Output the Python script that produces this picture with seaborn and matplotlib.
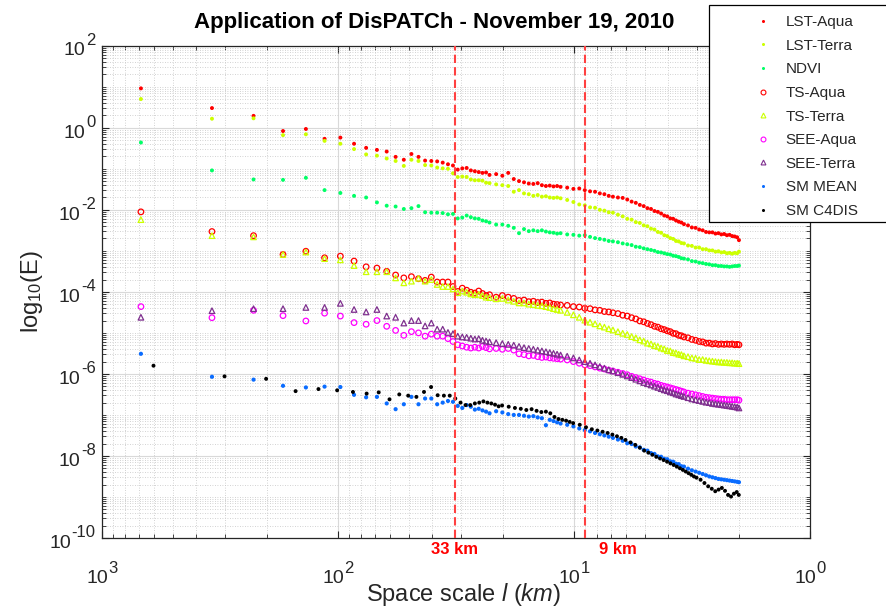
import numpy as np
import pandas as pd
import matplotlib
matplotlib.use("Agg")
import matplotlib.pyplot as plt
import seaborn as sns
from matplotlib.patches import Rectangle
from matplotlib.lines import Line2D
from matplotlib.ticker import FixedLocator, LogLocator, NullFormatter
import matplotlib.transforms as mtransforms

# ---------------- data ----------------
# domain lengths (km) of the two spectra; scale = L / wavenumber index
L_MAIN = 684.0
L_C4DIS = 605.0

k_main = (list(range(1, 31)) + list(range(32, 61, 2)) + list(range(64, 101, 4))
          + list(range(105, 201, 5)) + list(range(208, 337, 8)) + [342])
k_c4dis = (list(range(1, 31)) + list(range(32, 61, 2)) + list(range(64, 101, 4))
           + list(range(105, 201, 5)) + list(range(208, 297, 8)) + [302])

# log10(E) values
lst_aqua = [0.96, 0.48, 0.29, -0.08, -0.03, -0.27, -0.24, -0.39, -0.49, -0.54,
            -0.58, -0.71, -0.78, -0.64, -0.71, -0.80, -0.81, -0.82, -0.85, -0.89,
            -0.92, -1.02, -0.99, -0.98, -1.04, -1.06, -1.08, -1.10, -1.09, -1.15,
            -1.13, -1.17, -1.10, -1.25, -1.30, -1.33, -1.36, -1.37, -1.35, -1.40, -1.42, -1.41, -1.43, -1.42, -1.44,
            -1.46, -1.49, -1.48, -1.52, -1.55, -1.56, -1.60, -1.62, -1.66, -1.68,
            -1.70, -1.71, -1.75, -1.80, -1.83, -1.88, -1.91, -1.96, -1.98, -2.03,
            -2.05, -2.09, -2.14, -2.16, -2.21, -2.22, -2.26, -2.29, -2.31, -2.35,
            -2.38, -2.43, -2.44, -2.48, -2.50, -2.54, -2.55, -2.55, -2.58, -2.57,
            -2.60, -2.59, -2.62, -2.61, -2.64, -2.65, -2.67, -2.74]
lst_terra = [0.70, 0.22, 0.23, -0.18, -0.16, -0.32, -0.39, -0.52, -0.65, -0.68,
             -0.75, -0.81, -0.93, -0.78, -0.81, -0.91, -0.92, -0.97, -0.99, -1.00,
             -1.11, -1.20, -1.19, -1.20, -1.26, -1.28, -1.28, -1.29, -1.34, -1.35,
             -1.38, -1.40, -1.42, -1.56, -1.52, -1.60, -1.62, -1.66, -1.64, -1.68, -1.67, -1.70, -1.71, -1.70, -1.72,
             -1.76, -1.81, -1.87, -1.89, -1.94, -1.95, -2.00, -2.02, -2.06, -2.07,
             -2.12, -2.16, -2.22, -2.24, -2.30, -2.32, -2.38, -2.40, -2.46, -2.48,
             -2.54, -2.56, -2.62, -2.64, -2.69, -2.71, -2.76, -2.77, -2.81, -2.82,
             -2.87, -2.88, -2.92, -2.92, -2.96, -2.96, -2.99, -2.99, -3.02, -3.01,
             -3.04, -3.03, -3.06, -3.05, -3.07, -3.05, -3.06, -3.02]
ndvi = [-0.36, -1.04, -1.26, -1.27, -1.22, -1.52, -1.59, -1.66, -1.70, -1.82,
        -1.90, -1.92, -1.98, -1.96, -1.91, -2.06, -2.07, -2.07, -2.08, -2.11,
        -2.10, -2.21, -2.19, -2.14, -2.18, -2.21, -2.22, -2.26, -2.28, -2.31,
        -2.36, -2.36, -2.39, -2.44, -2.57, -2.47, -2.52, -2.50, -2.52, -2.50, -2.53, -2.55, -2.56, -2.58, -2.57,
        -2.60, -2.61, -2.63, -2.62, -2.66, -2.69, -2.71, -2.73, -2.76, -2.77,
        -2.79, -2.82, -2.84, -2.86, -2.90, -2.91, -2.94, -2.96, -2.98, -3.00,
        -3.03, -3.04, -3.06, -3.08, -3.09, -3.12, -3.13, -3.15, -3.18, -3.19,
        -3.21, -3.25, -3.26, -3.29, -3.30, -3.32, -3.33, -3.35, -3.35, -3.37,
        -3.37, -3.38, -3.38, -3.39, -3.38, -3.37, -3.37, -3.36]
ts_aqua = [-2.05, -2.53, -2.63, -3.09, -3.01, -3.17, -3.13, -3.25, -3.39, -3.42,
           -3.50, -3.59, -3.66, -3.63, -3.68, -3.72, -3.64, -3.76, -3.76, -3.76,
           -3.87, -3.99, -3.91, -3.96, -4.01, -4.03, -3.98, -4.04, -4.09, -4.07,
           -4.13, -4.09, -4.13, -4.16, -4.21, -4.20, -4.24, -4.23, -4.26, -4.25, -4.28, -4.27, -4.30, -4.31, -4.32,
           -4.33, -4.36, -4.37, -4.40, -4.41, -4.44, -4.45, -4.48, -4.49, -4.51,
           -4.53, -4.57, -4.59, -4.63, -4.66, -4.71, -4.73, -4.77, -4.80, -4.84,
           -4.86, -4.90, -4.92, -4.95, -4.97, -5.01, -5.02, -5.06, -5.07, -5.10,
           -5.12, -5.16, -5.18, -5.21, -5.22, -5.25, -5.25, -5.27, -5.26, -5.28,
           -5.27, -5.28, -5.27, -5.28, -5.27, -5.29, -5.28, -5.29]
ts_terra = [-2.24, -2.63, -2.66, -3.09, -3.03, -3.19, -3.22, -3.36, -3.51, -3.51,
            -3.51, -3.66, -3.78, -3.74, -3.67, -3.74, -3.70, -3.82, -3.87, -3.87,
            -3.93, -4.02, -3.98, -4.01, -4.05, -4.07, -4.06, -4.09, -4.13, -4.14,
            -4.17, -4.16, -4.20, -4.23, -4.27, -4.27, -4.30, -4.31, -4.33, -4.34, -4.36, -4.38, -4.41, -4.43, -4.45,
            -4.50, -4.56, -4.62, -4.69, -4.74, -4.78, -4.83, -4.86, -4.90, -4.93,
            -4.97, -5.01, -5.04, -5.09, -5.12, -5.17, -5.20, -5.25, -5.27, -5.31,
            -5.33, -5.37, -5.39, -5.43, -5.44, -5.48, -5.49, -5.52, -5.53, -5.56,
            -5.58, -5.61, -5.62, -5.65, -5.65, -5.67, -5.68, -5.69, -5.70, -5.71,
            -5.71, -5.72, -5.72, -5.73, -5.73, -5.74, -5.74, -5.75]
see_aqua = [-4.36, -4.63, -4.45, -4.58, -4.71, -4.52, -4.59, -4.75, -4.79, -4.70,
            -4.84, -4.94, -5.06, -4.97, -5.00, -5.08, -5.03, -5.08, -5.08, -5.14,
            -5.21, -5.29, -5.32, -5.35, -5.37, -5.35, -5.37, -5.33, -5.36, -5.39,
            -5.38, -5.40, -5.38, -5.42, -5.51, -5.53, -5.56, -5.55, -5.58, -5.60, -5.59, -5.61, -5.62, -5.63, -5.64,
            -5.66, -5.70, -5.74, -5.78, -5.80, -5.83, -5.86, -5.88, -5.91, -5.93,
            -5.96, -5.99, -6.02, -6.06, -6.09, -6.12, -6.15, -6.18, -6.20, -6.23,
            -6.25, -6.28, -6.30, -6.32, -6.34, -6.36, -6.38, -6.40, -6.42, -6.44,
            -6.47, -6.49, -6.51, -6.53, -6.55, -6.57, -6.58, -6.59, -6.60, -6.61,
            -6.62, -6.62, -6.63, -6.63, -6.63, -6.63, -6.63, -6.64]
see_terra = [-4.62, -4.46, -4.41, -4.41, -4.38, -4.38, -4.28, -4.43, -4.49, -4.43,
             -4.59, -4.62, -4.76, -4.70, -4.70, -4.83, -4.76, -4.91, -4.91, -4.99,
             -5.02, -5.08, -5.10, -5.11, -5.13, -5.15, -5.14, -5.18, -5.20, -5.22,
             -5.24, -5.26, -5.28, -5.30, -5.33, -5.36, -5.38, -5.40, -5.42, -5.44, -5.46, -5.48, -5.50, -5.52, -5.54,
             -5.57, -5.61, -5.66, -5.70, -5.74, -5.78, -5.82, -5.86, -5.90, -5.93,
             -5.97, -6.01, -6.05, -6.09, -6.13, -6.17, -6.21, -6.24, -6.27, -6.30,
             -6.33, -6.36, -6.39, -6.41, -6.44, -6.46, -6.49, -6.51, -6.53, -6.55,
             -6.58, -6.61, -6.63, -6.65, -6.67, -6.69, -6.70, -6.72, -6.73, -6.74,
             -6.75, -6.76, -6.77, -6.78, -6.79, -6.80, -6.81, -6.83]
sm_mean = [-5.51, -6.07, -6.14, -6.29, -6.33, -6.31, -6.32, -6.51, -6.57, -6.56,
           -6.72, -6.86, -6.74, -6.56, -6.74, -6.60, -6.60, -6.74, -6.70, -6.66,
           -6.68, -6.78, -6.83, -6.76, -6.80, -6.87, -6.85, -6.89, -6.92, -6.96,
           -6.91, -6.94, -6.98, -7.00, -7.00, -7.02, -7.04, -7.03, -7.06, -7.08, -7.25, -7.12, -7.15, -7.18, -7.21,
           -7.24, -7.28, -7.33, -7.37, -7.40, -7.44, -7.47, -7.50, -7.53, -7.56,
           -7.60, -7.63, -7.69, -7.71, -7.77, -7.79, -7.85, -7.87, -7.93, -7.95,
           -8.01, -8.02, -8.07, -8.08, -8.13, -8.14, -8.19, -8.20, -8.25, -8.26,
           -8.31, -8.35, -8.38, -8.41, -8.44, -8.47, -8.50, -8.52, -8.54, -8.56,
           -8.57, -8.58, -8.59, -8.60, -8.61, -8.62, -8.63, -8.64]
sm_c4dis = [-5.80, -6.06, -6.12, -6.42, -6.37, -6.40, -6.44, -6.48, -6.45, -6.62,
            -6.50, -6.53, -6.56, -6.44, -6.32, -6.52, -6.53, -6.53, -6.60, -6.70,
            -6.76, -6.76, -6.72, -6.70, -6.67, -6.70, -6.72, -6.75, -6.79, -6.77,
            -6.80, -6.83, -6.85, -6.88, -6.86, -6.90, -6.93, -6.92, -6.96, -7.05, -7.10, -7.12, -7.14, -7.17, -7.20,
            -7.24, -7.30, -7.35, -7.38, -7.41, -7.44, -7.48, -7.52, -7.56, -7.61,
            -7.67, -7.73, -7.80, -7.87, -7.92, -7.97, -8.02, -8.06, -8.10, -8.14,
            -8.18, -8.22, -8.26, -8.30, -8.34, -8.38, -8.42, -8.46, -8.50, -8.53,
            -8.58, -8.66, -8.74, -8.80, -8.86, -8.82, -8.78, -8.85, -8.95, -8.99,
            -8.92, -8.88, -8.95]

series_names = ["LST-Aqua", "LST-Terra", "NDVI", "TS-Aqua", "TS-Terra",
                "SEE-Aqua", "SEE-Terra", "SM MEAN", "SM C4DIS"]
series_logE = [lst_aqua, lst_terra, ndvi, ts_aqua, ts_terra,
               see_aqua, see_terra, sm_mean, sm_c4dis]
series_L = [L_MAIN] * 8 + [L_C4DIS]
series_k = [k_main] * 8 + [k_c4dis]

x_tick_exps = [3, 2, 1, 0]
y_tick_exps = [-10, -8, -6, -4, -2, 0, 2]

scale_lines_km = [32, 9]
scale_line_labels = ["33 km", "9 km"]

# ---------------- table ----------------
frames = []
for name, logs, L, ks in zip(series_names, series_logE, series_L, series_k):
    ks = np.asarray(ks, dtype=float)
    frames.append(pd.DataFrame({"series": name,
                                "scale": L / ks,
                                "E": 10.0 ** np.asarray(logs)}))
df = pd.concat(frames, ignore_index=True)

# ---------------- style ----------------
sns.set_style("ticks")
plt.rcParams["font.family"] = ["Liberation Sans", "DejaVu Sans"]
plt.rcParams["mathtext.fontset"] = "custom"
plt.rcParams["mathtext.rm"] = "Liberation Sans"
plt.rcParams["mathtext.it"] = "Liberation Sans:italic"
plt.rcParams["mathtext.bf"] = "Liberation Sans:bold"

styles = {
    "LST-Aqua":  dict(marker="o", color="#FF0000", open=False, s=8),
    "LST-Terra": dict(marker="o", color="#CCFF00", open=False, s=8),
    "NDVI":      dict(marker="o", color="#00FF66", open=False, s=8),
    "TS-Aqua":   dict(marker="o", color="#FF0000", open=True, s=16),
    "TS-Terra":  dict(marker="^", color="#CCFF00", open=True, s=16),
    "SEE-Aqua":  dict(marker="o", color="#FF00FF", open=True, s=16),
    "SEE-Terra": dict(marker="^", color="#7E2F8E", open=True, s=16),
    "SM MEAN":   dict(marker="o", color="#0A6CFF", open=False, s=9),
    "SM C4DIS":  dict(marker="o", color="#000000", open=False, s=8),
}
TXT = "#262626"

W, H = 887, 610
fig = plt.figure(figsize=(W / 100, H / 100), dpi=100)
fig.patch.set_facecolor("white")
ax_l, ax_r, ax_t, ax_b = 102, 810, 45.7, 538
ax = fig.add_axes([ax_l / W, 1 - ax_b / H, (ax_r - ax_l) / W, (ax_b - ax_t) / H])

for name in series_names:
    st = styles[name]
    d = df[df["series"] == name]
    if st["open"]:
        sns.scatterplot(data=d, x="scale", y="E", ax=ax, marker=st["marker"], s=st["s"],
                        color=st["color"], facecolor="none", edgecolor=st["color"],
                        linewidth=0.9, legend=False, zorder=3)
    else:
        sns.scatterplot(data=d, x="scale", y="E", ax=ax, marker=st["marker"], s=st["s"],
                        color=st["color"], edgecolor="none", linewidth=0,
                        legend=False, zorder=3)

ax.set_xscale("log")
ax.set_yscale("log")
ax.set_xlim(1000, 1)
ax.set_ylim(1e-10, 1e2)

ax.xaxis.set_major_locator(FixedLocator([10.0 ** e for e in x_tick_exps]))
ax.xaxis.set_minor_locator(LogLocator(base=10, subs=np.arange(1, 10), numticks=50))
ax.yaxis.set_major_locator(FixedLocator([10.0 ** e for e in y_tick_exps]))
ax.yaxis.set_minor_locator(LogLocator(base=10, subs=np.arange(1, 10), numticks=50))
ax.xaxis.set_minor_formatter(NullFormatter())
ax.yaxis.set_minor_formatter(NullFormatter())

ax.set_axisbelow(True)
ax.grid(which="major", color="#D9D9D9", linestyle="-", linewidth=0.8)
ax.grid(which="minor", color="#C4C4C4", linestyle=(0, (1, 2)), linewidth=0.6)

ax.tick_params(which="both", direction="in", top=True, right=True, colors=TXT,
               labelleft=False, labelbottom=False)
ax.tick_params(which="major", length=5, width=0.8)
ax.tick_params(which="minor", length=3, width=0.6)
for sp in ax.spines.values():
    sp.set_color(TXT)
    sp.set_linewidth(0.9)

# MATLAB-like power-of-ten tick labels (base + raised exponent)
BASE_FS, EXP_FS = 14, 12
renderer = fig.canvas.get_renderer()
pt_per_px = 72.0 / fig.dpi
ytr = mtransforms.blended_transform_factory(ax.transAxes, ax.transData)
for e in y_tick_exps:
    te = ax.annotate(str(e), xy=(0, 10.0 ** e), xycoords=ytr, xytext=(-4.5, 0.6),
                     textcoords="offset points", ha="right", va="baseline",
                     fontsize=EXP_FS, color=TXT)
    we = te.get_window_extent(renderer).width * pt_per_px
    ax.annotate("10", xy=(0, 10.0 ** e), xycoords=ytr, xytext=(-4.5 - we - 0.6, -3.8),
                textcoords="offset points", ha="right", va="center",
                fontsize=BASE_FS, color=TXT)
xtr = mtransforms.blended_transform_factory(ax.transData, ax.transAxes)
for e in x_tick_exps:
    te = ax.annotate(str(e), xy=(10.0 ** e, 0), xycoords=xtr, xytext=(0, 0),
                     textcoords="offset points", ha="left", va="baseline",
                     fontsize=EXP_FS, color=TXT)
    tb = ax.annotate("10", xy=(10.0 ** e, 0), xycoords=xtr, xytext=(0, 0),
                     textcoords="offset points", ha="left", va="center",
                     fontsize=BASE_FS, color=TXT)
    we = te.get_window_extent(renderer).width * pt_per_px
    wb = tb.get_window_extent(renderer).width * pt_per_px
    total = wb + 0.6 + we
    tb.xyann = (-total / 2, -29.0)
    te.xyann = (-total / 2 + wb + 0.6, -25.2)

# dashed reference scale lines
for xv in scale_lines_km:
    ax.axvline(xv, color="#FF4040", linestyle=(0, (4, 2)), linewidth=1.5, zorder=4)
ax.text(scale_lines_km[0], -0.023, scale_line_labels[0], transform=xtr, ha="center",
        va="center", color="#FF0000", fontsize=12, fontweight="bold",
        family=["Liberation Sans Narrow", "Liberation Sans"])
ax.annotate(scale_line_labels[1], xy=(scale_lines_km[1], -0.023), xycoords=xtr,
            xytext=(10, 0), textcoords="offset points", ha="left", va="center",
            color="#FF0000", fontsize=12, fontweight="bold",
            family=["Liberation Sans Narrow", "Liberation Sans"])

ax.set_xlabel(r"Space scale $\mathit{l\ (km)}$", fontsize=17, color=TXT)
ax.set_ylabel(r"log$_{10}$(E)", fontsize=17, color=TXT)
ax.xaxis.set_label_coords(0.51, -0.088)
ax.yaxis.set_label_coords(-0.081, 0.5)

fig.text(434 / W, 1 - 22.5 / H, "Application of DisPATCh - November 19, 2010",
         ha="center", va="center", fontsize=16, fontweight="bold", color="black")

# legend box
fig.add_artist(Rectangle((709 / W, 1 - 222 / H), (895 - 709) / W, (222 - 5) / H,
                         transform=fig.transFigure, facecolor="white",
                         edgecolor="black", linewidth=0.9, zorder=3))
handles = []
for name in series_names:
    st = styles[name]
    if st["open"]:
        handles.append(Line2D([], [], linestyle="", marker=st["marker"], markersize=3.5,
                              markerfacecolor="none", markeredgecolor=st["color"],
                              markeredgewidth=0.8))
    else:
        handles.append(Line2D([], [], linestyle="", marker=st["marker"], markersize=2.2,
                              markerfacecolor=st["color"], markeredgecolor="none"))
leg = fig.legend(handles, series_names, loc="upper left",
                 bbox_to_anchor=(709 / W, 1 - 5 / H), frameon=False, fontsize=11,
                 borderpad=0.66, handlelength=5.74, handletextpad=-1.37,
                 labelspacing=0.63, borderaxespad=0)
leg.set_zorder(5)

fig.savefig("out.png", dpi=100)
